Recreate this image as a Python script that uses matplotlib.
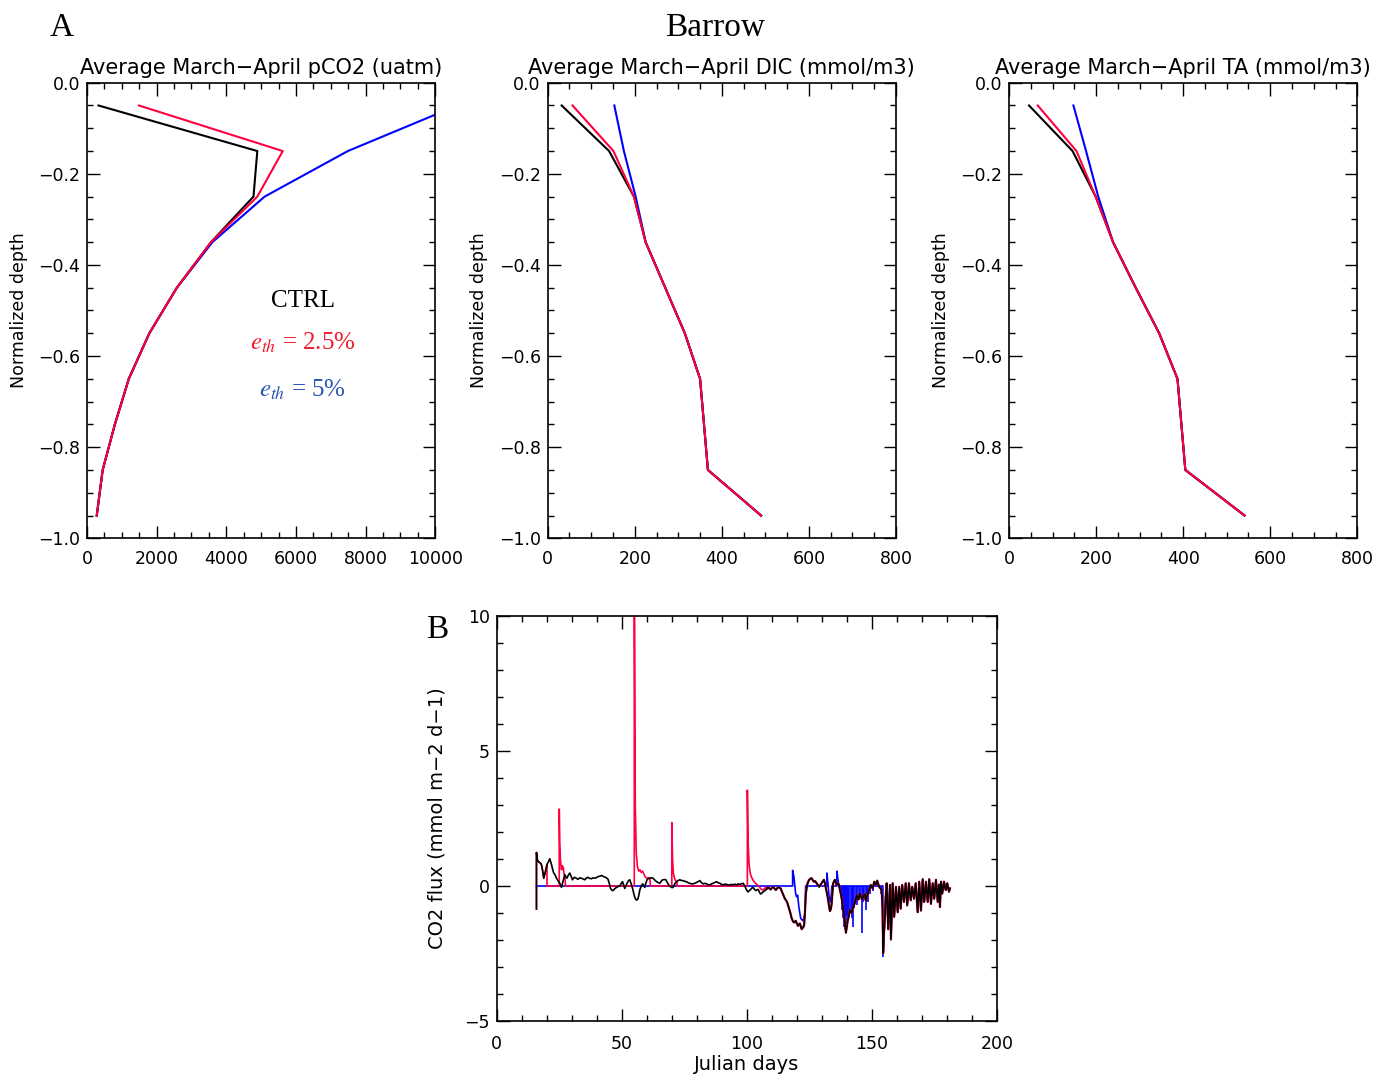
import numpy as np
import matplotlib
matplotlib.use("Agg")
import matplotlib.pyplot as plt
from matplotlib.ticker import MultipleLocator, FuncFormatter

# profile depths (normalized)
depth = [-0.05, -0.15, -0.25, -0.35, -0.45, -0.55, -0.65, -0.75, -0.85, -0.95]

pco2_ctrl = [330, 4890, 4780, 3560, 2580, 1790, 1200, 800, 450, 280]
pco2_e25 = [1490, 5620, 4890, 3560, 2580, 1790, 1200, 800, 450, 280]
pco2_e5 = [10630, 7490, 5100, 3600, 2580, 1790, 1200, 800, 450, 280]

dic_ctrl = [32, 141, 198, 225, 270, 315, 350, 359, 368, 490]
dic_e25 = [57, 151, 198, 225, 270, 315, 350, 359, 368, 490]
dic_e5 = [153, 175, 202, 225, 270, 315, 350, 359, 368, 490]

ta_ctrl = [46, 146, 199, 239, 291, 345, 387, 396, 405, 541]
ta_e25 = [66, 155, 199, 239, 291, 345, 387, 396, 405, 541]
ta_e5 = [148, 177, 205, 239, 291, 345, 387, 396, 405, 541]

# CO2 flux time series, CTRL run
jd_ctrl = [15.9, 15.9, 16.3, 16.9, 17.5, 17.9, 18.4, 18.8, 19.5, 20.1, 20.7, 21.2, 21.9, 22.4,
           22.8, 23.4, 23.9, 24.5, 25.2, 25.9, 26.5, 27.2, 27.6, 28.1, 28.6, 29.2, 29.8, 30.3,
           30.8, 31.2, 31.9, 32.5, 33.2, 33.9, 34.5, 35.2, 35.9, 36.5, 37.2, 37.9, 38.5, 39.2,
           39.9, 40.5, 41.2, 41.9, 42.5, 43.2, 43.9, 44.5, 45.0, 45.5, 46.0, 46.5, 47.2, 47.9,
           48.5, 49.2, 49.8, 50.3, 50.8, 51.2, 51.6, 52.1, 52.7, 53.2, 53.6, 53.9, 54.4, 54.8,
           55.2, 55.6, 56.1, 56.5, 56.9, 57.2, 57.8, 58.3, 58.8, 59.2, 59.6, 60.1, 60.6, 61.2,
           61.9, 62.5, 63.2, 63.9, 64.5, 65.2, 65.8, 66.3, 67.0, 67.6, 68.1, 68.5, 69.1, 69.6,
           70.1, 70.5, 71.2, 71.9, 72.5, 73.2, 73.9, 74.5, 75.2, 75.9, 76.5, 77.2, 77.9, 78.5,
           79.2, 79.9, 80.5, 81.2, 81.9, 82.5, 83.2, 83.9, 84.5, 85.2, 85.9, 86.5, 87.2, 87.9,
           88.5, 89.2, 89.9, 90.5, 91.2, 91.9, 92.5, 93.2, 93.9, 94.5, 95.2, 95.9, 96.5, 97.2,
           97.9, 98.5, 99.1, 99.6, 100.1, 100.5, 101.0, 101.5, 102.0, 102.5, 103.0, 103.6, 104.0,
           104.5, 105.0, 105.5, 106.0, 106.5, 107.0, 107.6, 108.0, 108.5, 109.0, 109.5, 110.0,
           110.5, 111.0, 111.6, 112.0, 112.5, 113.0, 113.5, 113.9, 114.3, 114.8, 115.2, 115.7,
           116.1, 116.5, 116.9, 117.4, 117.9, 118.4, 118.8, 119.2, 119.6, 120.0, 120.5, 120.8,
           121.2, 121.6, 121.9, 122.2, 122.5, 122.9, 123.2, 123.6, 124.1, 124.5, 124.9, 125.4,
           125.9, 126.3, 126.8, 127.3, 127.9, 128.4, 128.9, 129.4, 129.9, 130.4, 130.8, 131.2,
           131.6, 132.1, 132.5, 132.9, 133.2, 133.6, 133.9, 134.2, 134.5, 134.9, 135.2, 135.6,
           135.9, 136.2, 136.5, 136.9, 137.2, 137.6, 137.9, 138.4, 138.8, 139.2, 139.6, 140.0,
           140.3, 140.8, 141.2, 141.9, 142.8, 143.3, 143.9, 144.5, 145.2, 146.0, 146.8, 147.2,
           147.6, 148.1, 148.9, 149.5, 150.3, 150.9, 151.6, 152.1, 152.9, 153.5, 153.9, 154.2,
           154.5, 154.8, 155.2, 155.5, 155.9, 156.5, 157.2, 157.6, 158.3, 158.9, 159.6, 160.3,
           160.9, 161.5, 162.1, 162.8, 163.5, 164.1, 164.8, 165.5, 166.1, 166.8, 167.5, 168.3,
           168.9, 169.6, 170.3, 170.9, 171.6, 172.3, 172.9, 173.6, 174.3, 174.9, 175.6, 176.3,
           176.8, 177.2, 177.6, 178.1, 178.8, 179.5, 180.1, 180.8, 181.2]
flux_ctrl = [-0.85, 1.24, 0.95, 0.88, 0.85, 0.78, 0.55, 0.29, 0.54, 0.8, 0.9, 1.01, 0.8, 0.6,
             0.48, 0.4, 0.29, 0.2, 0.1, -0.05, 0.16, 0.42, 0.35, 0.29, 0.4, 0.48, 0.35, 0.23,
             0.3, 0.32, 0.28, 0.25, 0.3, 0.29, 0.26, 0.23, 0.3, 0.32, 0.28, 0.27, 0.3, 0.29,
             0.31, 0.35, 0.36, 0.39, 0.36, 0.33, 0.3, 0.25, 0.1, -0.09, -0.15, -0.17, -0.1, -0.05,
             -0.02, 0.0, 0.1, 0.16, 0.02, -0.09, 0.0, 0.1, 0.2, 0.23, 0.12, 0.04, -0.12, -0.28,
             -0.42, -0.5, -0.52, -0.47, -0.3, -0.15, 0.0, 0.08, 0.02, -0.05, 0.1, 0.23, 0.27, 0.29,
             0.3, 0.29, 0.22, 0.16, 0.13, 0.1, 0.18, 0.23, 0.24, 0.23, 0.15, 0.08, 0.0, -0.03,
             -0.06, -0.05, 0.08, 0.16, 0.2, 0.23, 0.2, 0.2, 0.17, 0.16, 0.12, 0.1, 0.08, 0.08,
             0.1, 0.13, 0.16, 0.2, 0.12, 0.08, 0.1, 0.08, 0.05, 0.04, 0.08, 0.1, 0.13, 0.16,
             0.12, 0.1, 0.06, 0.04, 0.07, 0.06, 0.04, 0.04, 0.06, 0.04, 0.07, 0.04, 0.08, 0.06,
             0.08, 0.1, 0.02, -0.09, -0.18, -0.22, -0.17, -0.13, -0.08, -0.05, -0.12, -0.17, -0.14,
             -0.13, -0.22, -0.3, -0.26, -0.22, -0.18, -0.15, -0.1, -0.05, -0.09, -0.13, -0.07,
             -0.03, -0.09, -0.15, -0.1, -0.05, -0.06, -0.09, -0.18, -0.28, -0.38, -0.47, -0.53,
             -0.6, -0.72, -0.85, -1.0, -1.19, -1.3, -1.35, -1.32, -1.29, -1.4, -1.48, -1.42,
             -1.39, -1.5, -1.6, -1.56, -1.54, -1.45, -1.03, -0.28, 0.04, 0.15, 0.23, 0.27,
             0.29, 0.22, 0.16, 0.18, 0.1, 0.03, -0.03, 0.05, 0.1, 0.18, 0.23, 0.1,
             -0.09, -0.3, -0.53, -0.75, -0.93, -0.85, -0.66, -0.3, 0.1, 0.18, 0.23, 0.12,
             0.04, 0.08, 0.1, 0.0, -0.15, -0.3, -0.47, -0.75, -1.03, -1.35, -1.73, -1.5,
             -1.29, -1.1, -0.88, -1.0, -0.72, -0.6, -0.35, -0.5, -0.28, -0.5, -0.34, -0.3,
             -0.55, -0.35, -0.15, 0.04, -0.09, 0.16, 0.04, 0.2, -0.03, -0.1, -0.15, -0.8,
             -2.49, -1.8, -1.16, -0.4, 0.1, -1.6, 0.04, -1.98, 0.1, -1.14, -0.03, -0.97,
             -0.03, -0.84, 0.04, -0.59, 0.1, -0.72, 0.1, -0.53, -0.03, -0.47, 0.1, -0.97,
             0.16, -0.91, 0.25, -0.59, 0.16, -0.59, 0.25, -0.66, 0.1, -0.47, 0.23, -0.59,
             0.05, -0.78, 0.16, -0.28, 0.16, -0.15, 0.1, -0.21, -0.09]

# e_th = 2.5% run: own values where it departs from CTRL (follows CTRL after day 108)
jd_e25 = [15.9, 15.9, 16.3, 16.9, 17.5, 17.9, 18.4, 18.8, 19.5, 20.1, 20.1, 25.0, 25.0, 25.2,
          25.5, 25.9, 26.2, 26.6, 26.9, 27.3, 27.5, 55.0, 55.0, 55.4, 55.8, 56.3, 56.8, 57.3,
          57.8, 58.3, 58.8, 59.3, 59.8, 60.5, 61.2, 61.5, 70.0, 70.0, 70.3, 70.6, 71.0, 71.5,
          72.0, 72.2, 100.2, 100.2, 100.5, 100.9, 101.4, 102.0, 102.6, 103.3, 104.0, 104.8,
          105.5, 106.2, 106.8, 107.5, 108.0]
flux_e25 = [-0.85, 1.24, 0.95, 0.88, 0.85, 0.78, 0.55, 0.29, 0.54, 0.8, 0.0, 0.0, 2.85, 1.6,
            0.95, 0.6, 0.75, 0.7, 0.45, 0.35, 0.0, 0.0, 12.0, 3.0, 1.2, 0.7, 0.55, 0.6,
            0.5, 0.55, 0.45, 0.35, 0.3, 0.3, 0.3, 0.0, 0.0, 2.35, 1.0, 0.5, 0.3, 0.2,
            0.15, 0.0, 0.0, 3.55, 1.6, 0.8, 0.45, 0.3, 0.2, 0.12, 0.05, 0.0,
            -0.1, -0.15, -0.12, -0.05, -0.1]

# e_th = 5% run: own values (follows CTRL after day 155)
jd_e5 = [15.9, 118.3, 118.3, 118.8, 119.5, 119.9, 120.3, 120.8, 121.5, 122.1, 122.5, 122.8,
         123.2, 123.5, 132.0, 132.0, 132.4, 132.8, 133.2, 133.6, 134.0, 136.0, 136.0, 136.4,
         136.8, 154.4, 154.4]
flux_e5 = [0.0, 0.0, 0.58, 0.35, -0.28, -0.4, -0.34, -0.78, -1.19, -1.26, -1.29, -1.2,
           -1.0, 0.0, 0.0, 0.48, 0.1, -0.3, -0.6, -0.5, 0.0, 0.0, 0.55, 0.25,
           0.0, 0.0, -2.6]
spike_days_e5 = [137.6, 138.1, 138.5, 138.9, 139.3, 139.7, 140.1, 140.6, 141.0, 141.5, 142.0,
                 142.4, 143.0, 143.5, 144.1, 144.7, 145.3, 145.9, 146.4, 147.0, 147.5, 148.0,
                 148.6, 149.2, 150.3, 153.6]
spike_vals_e5 = [-0.4, -0.9, -1.2, -1.5, -1.6, -1.4, -1.1, -1.2, -0.9, -1.0, -1.2,
                 -1.5, -0.8, -0.6, -0.7, -0.5, -0.4, -1.75, -0.6, -0.5, -0.9, -0.5,
                 -0.6, -0.3, -0.2, -0.3]

RED = "#ff0040"
BLUE = "#0000ff"

plt.rcParams["font.family"] = "DejaVu Sans"
plt.rcParams["mathtext.fontset"] = "stix"


def style_axes(ax, xmaj, xmin, ymaj, ymin, xpad):
    ax.xaxis.set_major_locator(MultipleLocator(xmaj))
    ax.xaxis.set_minor_locator(MultipleLocator(xmin))
    ax.yaxis.set_major_locator(MultipleLocator(ymaj))
    ax.yaxis.set_minor_locator(MultipleLocator(ymin))
    ax.tick_params(which="both", direction="in", top=True, right=True, labelsize=12.5, width=1)
    ax.tick_params(which="major", length=9)
    ax.tick_params(which="minor", length=4)
    ax.tick_params(axis="x", pad=xpad)
    ax.tick_params(axis="y", pad=5)
    for s in ax.spines.values():
        s.set_linewidth(1.2)


depth_fmt = FuncFormatter(lambda v, p: "{:.1f}".format(v).replace("-", "\u2212"))

fig = plt.figure(figsize=(13.76, 10.74), dpi=100)

W, H = 1376.0, 1074.0
top_y0 = 1 - 538.3 / H
top_h = 455.6 / H
profiles = [
    (87.0, pco2_ctrl, pco2_e25, pco2_e5, 10000, 2000, 500, "Average March\u2212April pCO2 (uatm)"),
    (547.7, dic_ctrl, dic_e25, dic_e5, 800, 200, 50, "Average March\u2212April DIC (mmol/m3)"),
    (1009.0, ta_ctrl, ta_e25, ta_e5, 800, 200, 50, "Average March\u2212April TA (mmol/m3)"),
]
axes = []
for left, ctrl, e25, e5, xmax, xmaj, xmin, title in profiles:
    ax = fig.add_axes([left / W, top_y0, 348.3 / W, top_h])
    ax.plot(e5, depth, color=BLUE, lw=1.5)
    ax.plot(ctrl, depth, color="black", lw=1.5)
    ax.plot(e25, depth, color=RED, lw=1.5)
    ax.set_xlim(0, xmax)
    ax.set_ylim(-1, 0)
    style_axes(ax, xmaj, xmin, 0.2, 0.05, 8.5)
    ax.yaxis.set_major_formatter(depth_fmt)
    ax.set_title(title, fontsize=15, pad=6)
    ax.set_ylabel("Normalized depth", fontsize=12.5)
    ax.yaxis.set_label_coords(-0.17, 0.5)
    axes.append(ax)

ax0 = axes[0]
ax0.text(0.62, 0.52, "CTRL", transform=ax0.transAxes, ha="center", va="center",
         fontsize=18, family="Liberation Serif")
ax0.text(0.62, 0.43, r"$e_{th}$ = 2.5%", transform=ax0.transAxes, ha="center", va="center",
         fontsize=18, family="Liberation Serif", color="#ee1c2e")
ax0.text(0.62, 0.325, r"$e_{th}$ = 5%", transform=ax0.transAxes, ha="center", va="center",
         fontsize=18, family="Liberation Serif", color="#2a55b5")

# panel B: CO2 flux
axb = fig.add_axes([496.7 / W, 1 - 1021 / H, 500.3 / W, 405 / H])
jd = np.array(jd_ctrl)
fl = np.array(flux_ctrl)
axb.plot(jd_e5, flux_e5, color=BLUE, lw=1.2)
axb.vlines(spike_days_e5, spike_vals_e5, 0, color=BLUE, lw=1.2)
late5 = jd >= 154.5
axb.plot(jd[late5], fl[late5], color=BLUE, lw=1.2)
axb.plot(jd_e25, flux_e25, color=RED, lw=1.2)
late25 = jd >= 108.0
axb.plot(jd[late25], fl[late25], color=RED, lw=1.6)
axb.plot(jd, fl, color="black", lw=1.2)
axb.set_xlim(0, 200)
axb.set_ylim(-5, 10)
style_axes(axb, 50, 10, 5, 1, 10)
axb.set_xlabel("Julian days", fontsize=14)
axb.xaxis.set_label_coords(0.5, -0.085)
axb.set_ylabel("CO2 flux (mmol m\u22122 d\u22121)", fontsize=14)
axb.yaxis.set_label_coords(-0.1, 0.5)

fig.text(715 / W, 1 - 28 / H, "Barrow", ha="center", va="center", fontsize=24,
         family="Liberation Serif")
fig.text(62 / W, 1 - 28 / H, "A", ha="center", va="center", fontsize=24,
         family="Liberation Serif")
fig.text(437 / W, 1 - 630 / H, "B", ha="center", va="center", fontsize=24,
         family="Liberation Serif")

fig.savefig("out.png", dpi=100)
